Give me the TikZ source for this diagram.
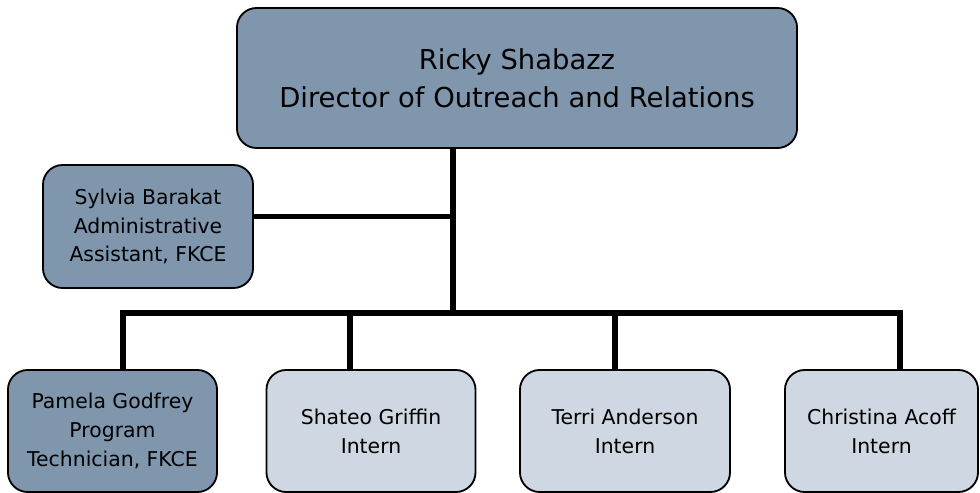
\documentclass[tikz,border=0pt]{standalone}
\usepackage{fontspec}
\setmainfont{DejaVu Sans}
\definecolor{darkbox}{RGB}{127,150,173}
\definecolor{lightbox}{RGB}{207,216,226}

\begin{document}
\begin{tikzpicture}[x=0.025cm, y=-0.025cm,
  every node/.style={draw=black, line width=1.3pt, rounded corners=14pt, align=center, inner sep=0pt},
  headbox/.style={fill=darkbox, minimum width=14cm, minimum height=3.5cm, font=\fontsize{19.5}{27}\selectfont},
  staffbox/.style={fill=darkbox, minimum width=5.225cm, minimum height=3.05cm, font=\fontsize{14.5}{20.5}\selectfont},
  internbox/.style={staffbox, fill=lightbox},
  conn/.style={draw=black, line width=3.6pt, line join=miter}]
\useasboundingbox (0,0) rectangle (980,493);
\node[headbox] (Boss) at (517,78) {Ricky Shabazz\\Director of Outreach and Relations};
\node[staffbox, minimum width=5.25cm, minimum height=3.075cm] (Sylvia) at (148,226.5) {Sylvia Barakat\\Administrative\\Assistant, FKCE};
\node[staffbox] (Pamela) at (112.5,431) {Pamela Godfrey\\Program\\Technician, FKCE};
\node[internbox] (Shateo) at (371,431) {Shateo Griffin\\Intern};
\node[internbox, minimum width=5.25cm] (Terri) at (625,431) {Terri Anderson\\Intern};
\node[internbox, minimum width=4.825cm] (Christina) at (881.5,431) {Christina Acoff\\Intern};
\coordinate (Trunk) at (453,313);
\coordinate (BusL) at (123,313);
\coordinate (BusS) at (350,313);
\coordinate (BusT) at (615,313);
\coordinate (BusR) at (900,313);
\draw[conn] (Boss.south -| Trunk) -- (Trunk);
\draw[conn] ([yshift=0.26cm]Sylvia.east) -- ([yshift=0.26cm]Sylvia.east -| Trunk);
\draw[conn] (BusL |- Pamela.north) -- (BusL) -- (BusR) -- (BusR |- Christina.north);
\draw[conn] (BusS) -- (BusS |- Shateo.north);
\draw[conn] (BusT) -- (BusT |- Terri.north);
\end{tikzpicture}
\end{document}
